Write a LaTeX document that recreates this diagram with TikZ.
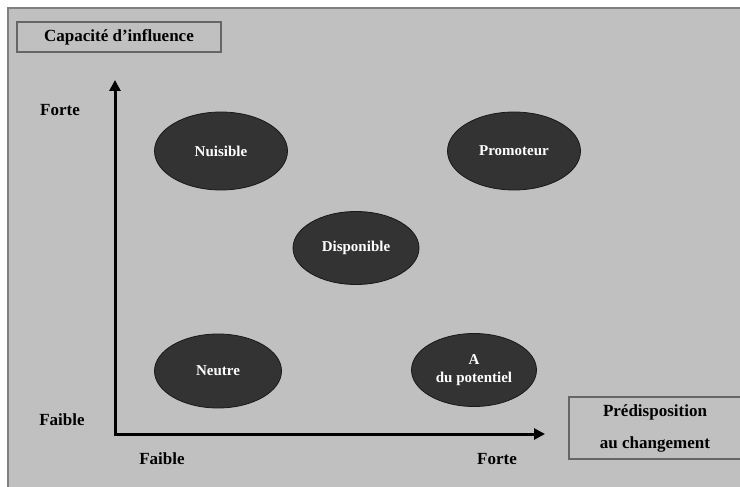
\documentclass[tikz,border=0pt]{standalone}
\usepackage{fontspec}
\setmainfont{Liberation Serif}
\usetikzlibrary{shapes.geometric,arrows.meta}
\definecolor{bg}{HTML}{C0C0C0}
\definecolor{frame}{HTML}{808080}
\definecolor{boxline}{HTML}{666666}
\definecolor{ell}{HTML}{333333}
\tikzset{
  lbl/.style={font=\bfseries\fontsize{17}{20}\selectfont, text=black},
  ellnode/.style={ellipse, fill=ell, draw=black!90, line width=0.8pt, minimum width=133pt, minimum height=78pt, inner sep=0pt, text=white, font=\bfseries\fontsize{15}{18}\selectfont, align=center},
  labbox/.style={draw=boxline, line width=1.4pt, inner sep=0pt},
  axis/.style={line width=3pt, -{Triangle[length=11pt,width=11pt]}}
}
\begin{document}
\begin{tikzpicture}[x=1pt,y=-1pt]
\useasboundingbox (0,0) rectangle (740,487);
\fill[bg] (8,8) rectangle (740,487);
\draw[frame, line width=1.5pt] (8,487) -- (8,8) -- (740,8);
% title box
\node[labbox, minimum width=204pt, minimum height=30pt, lbl] (title) at (119,37) {Capacité d’influence};
% axes
\coordinate (o) at (115,434);
\coordinate (ytop) at (115,80);
\coordinate (xend) at (545,434);
\draw[axis] ([yshift=1.5pt]o) -- (ytop);
\draw[axis] ([xshift=-1.5pt]o) -- (xend);
% axis labels
\node[lbl] (yforte) at (60,110) {Forte};
\node[lbl] (yfaible) at (62,420) {Faible};
\node[lbl] (xfaible) at (162,459) {Faible};
\node[lbl] (xforte) at (497,459) {Forte};
% predisposition box
\node[labbox, minimum width=172pt, minimum height=62pt, lbl, align=center, font=\bfseries\fontsize{17}{32}\selectfont] (pred) at (655,428) {Prédisposition\\au changement};
% ellipses
\node[ellnode] (nuis) at (221,151) {Nuisible};
\node[ellnode] (prom) at (514,151) {Promoteur};
\node[ellnode, minimum width=126pt, minimum height=73pt] (disp) at (356,248) {Disponible};
\node[ellnode, minimum width=127pt, minimum height=74pt] (neut) at (218,371) {Neutre};
\node[ellnode, minimum width=125pt, minimum height=73pt] (pot) at (474,370) {A\\du potentiel};
\end{tikzpicture}
\end{document}
